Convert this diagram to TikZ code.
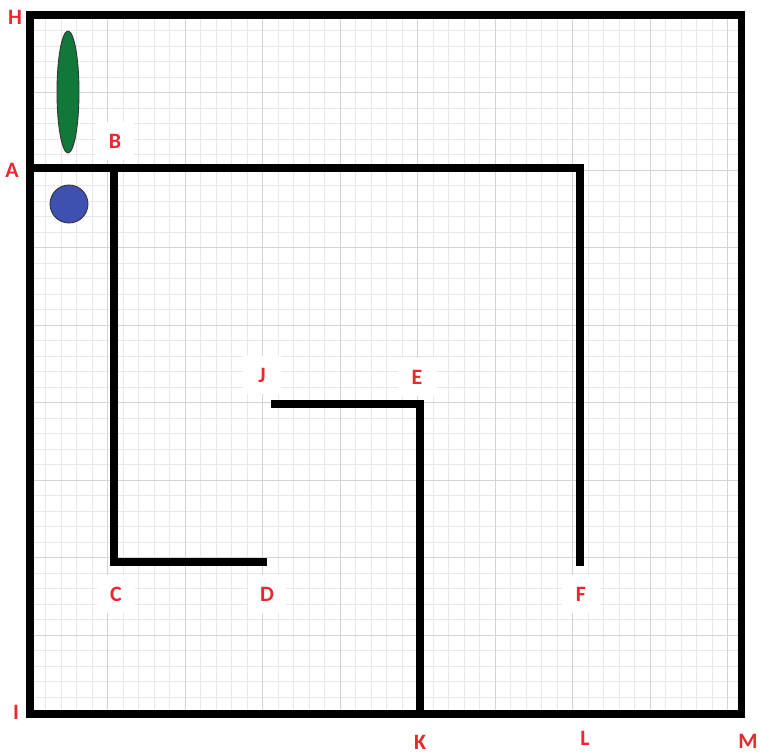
\documentclass[tikz,border=0pt]{standalone}
\usepackage{fontspec}
\setsansfont{Carlito}
\usepackage{tikz}
\usetikzlibrary{calc,shapes.geometric}
\definecolor{mazered}{HTML}{E8282C}
\definecolor{mazegreen}{HTML}{11783A}
\definecolor{mazeblue}{HTML}{3F51B0}
\tikzset{
  gridln/.style={draw=black!9, line width=0.35pt},
  gridmaj/.style={draw=black!17, line width=0.45pt},
  wall/.style={draw=black, line width=4pt, line cap=rect, line join=miter},
  lbl/.style={fill=white, text=mazered, font=\sffamily\bfseries\fontsize{12.5}{14}\selectfont, minimum width=0.75cm, minimum height=0.75cm, inner sep=0pt},
  pawn/.style={draw=black!80, line width=0.5pt},
}
\begin{document}
\begin{tikzpicture}[x=0.02cm, y=-0.02cm]
      \useasboundingbox[fill=white] (0,0) rectangle (759,753);
      % grid paper
      \foreach \gx in {30,45.5,...,741} \draw[gridln] (\gx,15) -- (\gx,714);
      \foreach \gy in {15,30.5,...,714} \draw[gridln] (30,\gy) -- (741,\gy);
      \foreach \gx in {30,107.5,...,741} \draw[gridmaj] (\gx,15) -- (\gx,714);
      \foreach \gy in {15,92.5,...,714} \draw[gridmaj] (30,\gy) -- (741,\gy);
      % corners of the walls
      \coordinate (H) at (30,15);
      \coordinate (Q) at (741,15);
      \coordinate (M) at (741,714);
      \coordinate (I) at (30,714);
      \coordinate (A) at (33,168);
      \coordinate (B) at (114,168);
      \coordinate (C) at (114,562);
      \coordinate (D) at (263,562);
      \coordinate (Ft) at (580,168);
      \coordinate (F) at (580,562);
      \coordinate (J) at (275,404);
      \coordinate (E) at (420,404);
      \coordinate (K) at (420,712);
      % labels
      \node[lbl] (lH) at (15,17) {H};
      \node[lbl] (lA) at (12,170) {A};
      \node[lbl] (lB) at (115,141) {B};
      \node[lbl] (lJ) at (262,375) {J};
      \node[lbl] (lE) at (417,377) {E};
      \node[lbl] (lC) at (116,594) {C};
      \node[lbl] (lD) at (267,594) {D};
      \node[lbl] (lF) at (581,594) {F};
      \node[lbl] (lI) at (16,712) {I};
      \node[lbl] (lK) at (420,742) {K};
      \node[lbl] (lL) at (585,738) {L};
      \node[lbl] (lM) at (748,741) {M};
      % walls
      \draw[wall] (H) -- (Q) -- (M) -- (I) -- cycle;
      \draw[wall] (A) -- (Ft) -- (F);
      \draw[wall] (B) -- (C) -- (D);
      \draw[wall] (J) -- (E) -- (K);
      % pieces
      \node[pawn, ellipse, fill=mazegreen, minimum width=0.44cm, minimum height=2.44cm, inner sep=0pt] (stick) at (68,92) {};
      \node[pawn, circle, fill=mazeblue, minimum size=0.76cm, inner sep=0pt] (ball) at (69,204) {};
    \end{tikzpicture}
\end{document}
